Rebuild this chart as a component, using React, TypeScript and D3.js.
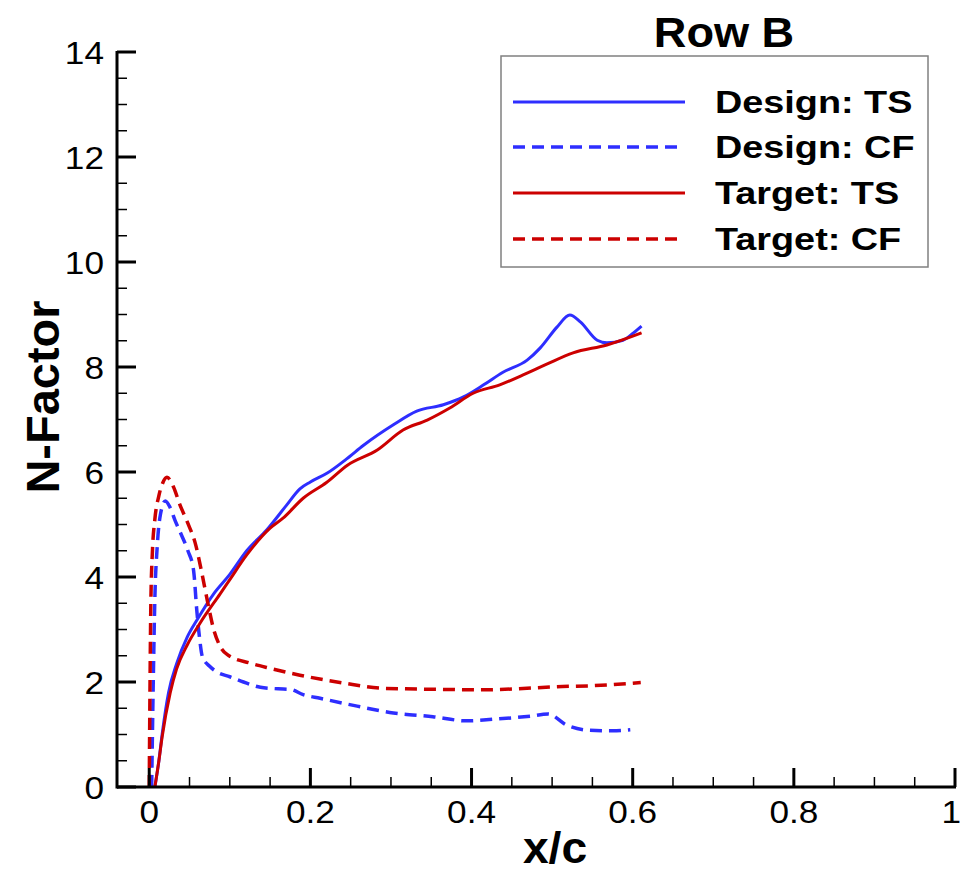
import React from "react";
import * as d3 from "d3";

const designTSx = [0.007, 0.012, 0.016, 0.024, 0.034, 0.047, 0.06, 0.08, 0.1, 0.121, 0.146, 0.17, 0.187, 0.2, 0.221, 0.245, 0.266, 0.303, 0.332, 0.365, 0.39, 0.415, 0.439, 0.469, 0.485, 0.506, 0.522, 0.535, 0.556, 0.568, 0.588, 0.601, 0.611];
const designTSy = [0, 0.5, 1.0, 1.8, 2.35, 2.85, 3.2, 3.68, 4.05, 4.5, 4.9, 5.36, 5.68, 5.81, 5.98, 6.25, 6.51, 6.9, 7.16, 7.28, 7.43, 7.66, 7.9, 8.13, 8.36, 8.76, 8.99, 8.86, 8.51, 8.46, 8.51, 8.65, 8.78];

const targetTSx = [0.007, 0.012, 0.016, 0.026, 0.034, 0.047, 0.063, 0.088, 0.1, 0.121, 0.15, 0.166, 0.191, 0.22, 0.246, 0.283, 0.315, 0.345, 0.373, 0.402, 0.435, 0.464, 0.494, 0.526, 0.568, 0.611];
const targetTSy = [0, 0.5, 0.95, 1.79, 2.25, 2.7, 3.12, 3.68, 3.95, 4.42, 4.93, 5.12, 5.5, 5.8, 6.13, 6.42, 6.8, 6.99, 7.22, 7.5, 7.66, 7.85, 8.06, 8.27, 8.42, 8.65];

const designCFx = [0.003, 0.005, 0.007, 0.01, 0.014, 0.02, 0.026, 0.032, 0.04, 0.048, 0.055, 0.059, 0.062, 0.066, 0.075, 0.084, 0.1, 0.117, 0.138, 0.16, 0.175, 0.191, 0.212, 0.258, 0.303, 0.352, 0.394, 0.427, 0.473, 0.495, 0.518, 0.547, 0.575, 0.597];
const designCFy = [0, 2, 3.6, 4.6, 5.2, 5.45, 5.32, 5.08, 4.8, 4.5, 4.13, 3.37, 2.9, 2.48, 2.3, 2.19, 2.1, 2.0, 1.9, 1.87, 1.86, 1.76, 1.69, 1.54, 1.41, 1.34, 1.26, 1.29, 1.35, 1.39, 1.18, 1.08, 1.07, 1.09];

const targetCFx = [0.0, 0.001, 0.002, 0.004, 0.007, 0.012, 0.017, 0.022, 0.03, 0.038, 0.048, 0.057, 0.065, 0.072, 0.08, 0.088, 0.097, 0.125, 0.15, 0.187, 0.241, 0.29, 0.361, 0.41, 0.456, 0.506, 0.551, 0.61];
const targetCFy = [0, 2, 3.5, 4.5, 5.1, 5.55, 5.8, 5.9, 5.72, 5.38, 5.02, 4.65, 4.1, 3.56, 3.0, 2.68, 2.52, 2.36, 2.26, 2.13, 1.98, 1.88, 1.86, 1.85, 1.87, 1.91, 1.93, 1.99];

const xMajorTicks = [0, 0.2, 0.4, 0.6, 0.8, 1];
const xTickLabels = ["0", "0.2", "0.4", "0.6", "0.8", "1"];
const yMajorTicks = [0, 2, 4, 6, 8, 10, 12, 14];
const yTickLabels = ["0", "2", "4", "6", "8", "10", "12", "14"];

const seriesNames = ["Design: TS", "Design: CF", "Target: TS", "Target: CF"];

const BLUE = "#2e2eff";
const RED = "#cc0000";
const FONT = "'Liberation Sans', Arial, Helvetica, sans-serif";

export default function App() {
  const W = 962, H = 875;
  const x = d3.scaleLinear().domain([-0.04, 1]).range([117, 955]);
  const y = d3.scaleLinear().domain([0, 14]).range([787, 52]);

  const line = (xs: number[], ys: number[]) =>
    d3.line<number>()
      .x((_, i) => x(xs[i]))
      .y((_, i) => y(ys[i]))
      .curve(d3.curveMonotoneX)(xs.map((_, i) => i)) || "";

  const series = [
    { xs: designTSx, ys: designTSy, color: BLUE, dash: null as string | null },
    { xs: designCFx, ys: designCFy, color: BLUE, dash: "12,7" },
    { xs: targetTSx, ys: targetTSy, color: RED, dash: null },
    { xs: targetCFx, ys: targetCFy, color: RED, dash: "12,7" },
  ];

  const xMinor = d3.range(0, 1.0001, 0.05).filter(v => !xMajorTicks.some(m => Math.abs(m - v) < 1e-6));
  const yMinor = d3.range(0, 14.0001, 0.5).filter(v => !yMajorTicks.some(m => Math.abs(m - v) < 1e-6));

  const legendRows = [102, 147, 193, 239];

  return (
    <svg width={W} height={H} style={{ position: "absolute", left: 0, top: 0, background: "#fff" }} fontFamily={FONT}>
      <rect x={0} y={0} width={W} height={H} fill="#fff" />
      {/* curves */}
      {series.map((s, i) => (
        <path key={i} d={line(s.xs, s.ys)} fill="none" stroke={s.color}
          strokeWidth={s.dash ? 3.5 : 3} strokeDasharray={s.dash || undefined} strokeLinejoin="round" />
      ))}
      {/* axes */}
      <line x1={117} x2={956} y1={787} y2={787} stroke="#000" strokeWidth={3} />
      <line x1={117} x2={117} y1={51} y2={788.5} stroke="#000" strokeWidth={3} />
      {xMajorTicks.map(v => (
        <line key={"xm" + v} x1={x(v)} x2={x(v)} y1={787} y2={768} stroke="#000" strokeWidth={3} />
      ))}
      {xMinor.map(v => (
        <line key={"xn" + v} x1={x(v)} x2={x(v)} y1={787} y2={777} stroke="#000" strokeWidth={1.5} />
      ))}
      {yMajorTicks.map(v => (
        <line key={"ym" + v} x1={117} x2={136} y1={y(v)} y2={y(v)} stroke="#000" strokeWidth={3} />
      ))}
      {yMinor.map(v => (
        <line key={"yn" + v} x1={117} x2={127} y1={y(v)} y2={y(v)} stroke="#000" strokeWidth={1.5} />
      ))}
      {/* tick labels */}
      {xMajorTicks.map((v, i) => {
        const last = i === xMajorTicks.length - 1;
        return (
          <text key={"xl" + v} transform={`translate(${last ? 961 : x(v)},823) scale(1.1,1)`}
            textAnchor={last ? "end" : "middle"} fontSize={32}>{xTickLabels[i]}</text>
        );
      })}
      {yMajorTicks.map((v, i) => (
        <text key={"yl" + v} transform={`translate(104,${y(v) + 11.5}) scale(1.1,1)`} textAnchor="end" fontSize={32}>{yTickLabels[i]}</text>
      ))}
      {/* axis titles */}
      <text transform="translate(555,863) scale(1.05,1)" textAnchor="middle" fontSize={44} fontWeight="bold">x/c</text>
      <text transform="translate(59,397) rotate(-90)" textAnchor="middle" fontSize={47} fontWeight="bold">N-Factor</text>
      {/* title */}
      <text transform="translate(724,47) scale(1.05,1)" textAnchor="middle" fontSize={43} fontWeight="bold">Row B</text>
      {/* legend */}
      <rect x={501} y={56} width={427} height={211} fill="#fff" stroke="#808080" strokeWidth={1.5} />
      {series.map((s, i) => (
        <g key={"lg" + i}>
          <line x1={513} x2={i % 2 === 1 ? 679 : 685} y1={legendRows[i]} y2={legendRows[i]} stroke={s.color}
            strokeWidth={s.dash ? 3.5 : 3} strokeDasharray={s.dash || undefined} />
          <text transform={`translate(715,${legendRows[i] + 11}) scale(1.22,1)`} fontSize={31} fontWeight="bold">{seriesNames[i]}</text>
        </g>
      ))}
    </svg>
  );
}
